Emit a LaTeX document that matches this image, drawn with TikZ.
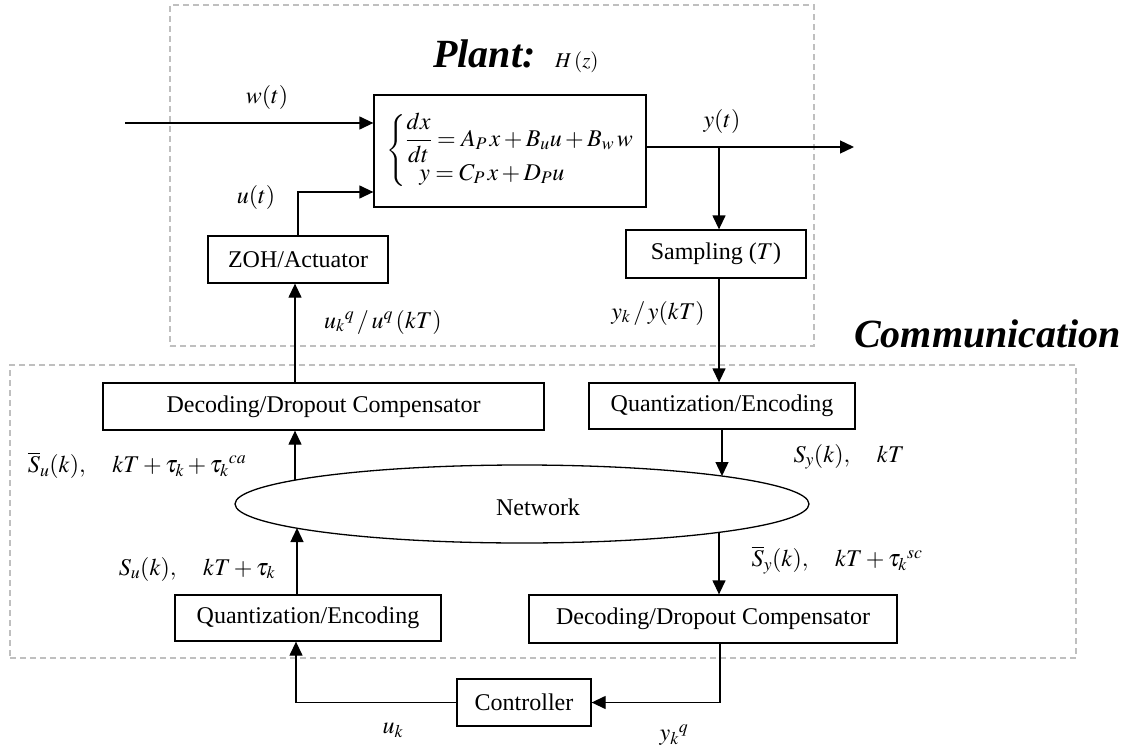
\documentclass[tikz,border=0pt]{standalone}
\usepackage{amsmath}
\usepackage{mathptmx}
\usepackage[no-math]{fontspec}
\setmainfont{Liberation Serif}
\usetikzlibrary{arrows.meta,shapes.geometric,calc}
\begin{document}
\begin{tikzpicture}[x=1pt,y=-1pt,
  every node/.style={font=\fontsize{24}{28}\selectfont, inner sep=0pt},
  blk/.style={draw, line width=1.3pt, rectangle, align=center},
  arr/.style={line width=1.3pt, -{Triangle[length=14pt,width=13pt]}},
  ln/.style={line width=1.3pt},
  grp/.style={draw=black!25, dash pattern=on 6pt off 4pt, line width=1.1pt, rectangle},
  ttl/.style={font=\fontsize{40}{44}\selectfont\bfseries\itshape}]
\useasboundingbox (0,0) rectangle (1134,754);

% group frames
\node[grp, minimum width=644pt, minimum height=341pt] (plantgrp) at (492,175.5) {};
\node[grp, minimum width=1066pt, minimum height=293pt] (commgrp) at (543,511.5) {};

% titles
\node[ttl, anchor=base west] (ptitle) at (433,68) {Plant:};
\node[anchor=base west, font=\fontsize{21}{24}\selectfont] (hz) at (555,68) {$H\,(z)$};
\node[ttl, anchor=base west] (ctitle) at (854,347) {Communication};

% blocks
\node[blk, minimum width=272pt, minimum height=112pt] (plant) at (510,151)
  {$\left\{\begin{array}{@{}l@{}}\dfrac{dx}{dt}=A_P\,x+B_u u+B_w\,w\\[-2pt] \hspace{14pt}y=C_P\,x+D_P u\end{array}\right.$};
\node[blk, minimum width=180pt, minimum height=47pt] (zoh) at (298,259.5) {ZOH/Actuator};
\node[blk, minimum width=180pt, minimum height=48pt] (samp) at (716,254) {Sampling ($T$)};
\node[blk, minimum width=441pt, minimum height=47pt] (dec1) at (323.5,406.5) {Decoding/Dropout Compensator};
\node[blk, minimum width=266pt, minimum height=46pt] (quant1) at (722,406) {Quantization/Encoding};
\node[draw, ellipse, line width=1.3pt, minimum width=574pt, minimum height=78pt] (net) at (522,504) {};
\node (nettxt) at (538,507) {Network};
\node[blk, minimum width=266pt, minimum height=46pt] (quant2) at (308,618) {Quantization/Encoding};
\node[blk, minimum width=368pt, minimum height=48pt] (dec2) at (713,619) {Decoding/Dropout Compensator};
\node[blk, minimum width=134pt, minimum height=47pt] (ctrl) at (524,702.5) {Controller};

% helper coordinates
\coordinate (win) at (125,123);
\coordinate (yout) at (854,147);
\coordinate (ybr) at (719,147);
\coordinate (e1) at (295,480);
\coordinate (e2) at (297,528);
\coordinate (e3) at (722,476);
\coordinate (e4) at (719,532);

% connectors
\draw[arr] (win) -- (win -| plant.west);
\draw[arr] (zoh.north) |- ([yshift=-41pt]plant.west);
\draw[arr] ([yshift=4pt]plant.east) -- (yout);
\draw[arr] (ybr) -- (ybr |- samp.north);
\draw[arr] (ybr |- samp.south) -- (ybr |- quant1.north);
\draw[arr] (e1 |- dec1.north) -- (e1 |- zoh.south);
\draw[arr] (e1) -- (e1 |- dec1.south);
\draw[arr] (e3 |- quant1.south) -- (e3);
\draw[arr] (e2 |- quant2.north) -- (e2);
\draw[arr] (e4) -- (e4 |- dec2.north);
\draw[arr] ([xshift=7pt]dec2.south) |- (ctrl.east);
\draw[arr] (ctrl.west) -| ([xshift=-12pt]quant2.south);

% labels
\node (lw) at (267,98) {$w(t)$};
\node (lu) at (256,198) {$u(t)$};
\node (ly) at (722,122) {$y(t)$};
\node (luq) at (383,322) {$u_k{}^{q}\,/\,u^{q}\,(kT)$};
\node (lyk) at (658,313) {$y_k\,/\,y(kT)$};
\node (lsub) at (137,465) {$\overline{S}_u(k),\quad kT+\tau_k+\tau_k{}^{ca}$};
\node (lsu) at (197,569) {$S_u(k),\quad kT+\tau_k$};
\node (lsy) at (849,457) {$S_y(k),\quad kT$};
\node (lsyb) at (837,560) {$\overline{S}_y(k),\quad kT+\tau_k{}^{sc}$};
\node (luk) at (393,730) {$u_k$};
\node (lykq) at (674,735) {$y_k{}^{q}$};
\end{tikzpicture}
\end{document}
